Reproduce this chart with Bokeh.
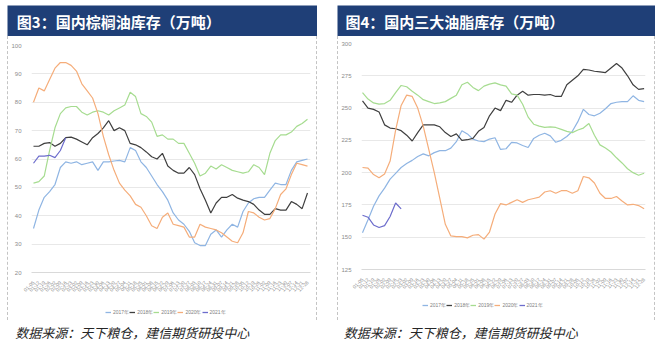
import numpy as np
from bokeh.plotting import figure
from bokeh.models import Range1d, FixedTicker, Legend, LegendItem, Label, Spacer
from bokeh.layouts import column, row
from bokeh.embed import file_html
from bokeh.resources import INLINE

# ---------------- data ----------------
weeks = ["01-05", "01-12", "01-19", "01-26", "02-02", "02-09", "02-16", "02-23",
         "03-02", "03-09", "03-16", "03-23", "03-30", "04-06", "04-13", "04-20",
         "04-27", "05-04", "05-11", "05-18", "05-25", "06-01", "06-08", "06-15",
         "06-22", "06-29", "07-06", "07-13", "07-20", "07-27", "08-03", "08-10",
         "08-17", "08-24", "08-31", "09-07", "09-14", "09-21", "09-28", "10-05",
         "10-12", "10-19", "10-26", "11-02", "11-09", "11-16", "11-23", "11-30",
         "12-07", "12-14", "12-21", "12-28"]
years = ["2017年", "2018年", "2019年", "2020年", "2021年"]

# 图3 国内棕榈油库存（万吨）
palm_2017 = [35.5, 42, 46.5, 48.5, 51, 57, 59, 58.5, 59, 58, 58.5, 59, 56, 59, 59, 59.3, 59.5, 59,
             64, 63, 59, 57, 54, 51, 48.5, 45.5, 41, 38.5, 37, 34.5, 30.5, 29.5, 29.5, 33.5, 35,
             32.5, 35, 37, 36, 41.5, 44.5, 46, 46.5, 46.5, 49, 51.5, 51, 51, 56, 59, 59.5, 60]
palm_2018 = [64.5, 64.5, 65.5, 65.8, 64.5, 65.5, 67.5, 67.7, 67, 66, 65, 67.5, 69, 71, 73.5, 70,
             71, 70, 65.5, 65, 64, 62.5, 60.8, 60, 62, 57.5, 56, 55, 55, 57, 54.5, 49.5, 45.5, 41,
             44.5, 46.5, 46.5, 47.5, 46.2, 45.5, 45, 44, 42, 40.5, 40.5, 42.5, 42, 42, 45, 44,
             42.5, 48]
palm_2019 = [51.5, 52, 54, 63, 71, 76, 78, 78.5, 78.5, 76.5, 75.5, 76.5, 77, 76.5, 75.5, 77, 78,
             79, 83.5, 82, 76, 75, 73, 68, 68.5, 67, 67, 65.5, 65.5, 62, 58.5, 54, 55, 57.5, 56.5,
             58, 57, 56, 55.5, 55, 55.5, 58, 57, 54.5, 62, 66.5, 68.5, 68.5, 69.5, 71.5, 72.5, 74]
palm_2020 = [80, 85, 84, 88, 92, 94, 94, 93, 91, 86.5, 84, 81.5, 76, 68, 61.5, 56, 51.5, 49, 47,
             44, 43, 40, 36.5, 35.5, 39.5, 41, 37, 36.5, 36, 32.5, 32.5, 37, 36, 35.5, 35, 34,
             32.5, 31, 30.5, 34, 41.5, 41, 39.5, 38.5, 39, 42.5, 47.5, 49.5, 54.5, 58.5, 58, 57.5]
palm_2021 = [58.5, 61, 61, 61.3, 60.5, 63, 67.5]
palm_yticks = [20, 30, 40, 50, 60, 70, 80, 90, 100]

# 图4 国内三大油脂库存（万吨）
oil_2017 = [153.5, 163.5, 174, 182, 188, 195, 199.5, 204, 207, 209.5, 212.5, 214.5, 213, 215.5,
            217, 217, 219, 224, 232.5, 230, 226, 224.5, 224, 226, 227, 218, 218.5, 223.5, 223,
            221, 219.5, 226.5, 229, 230.5, 228.5, 223.5, 225, 228, 232, 239.5, 249, 245, 244,
            246, 249.5, 253.5, 254.5, 255, 255, 259.5, 256, 255]
oil_2018 = [255.5, 250, 249, 247, 237, 234.5, 234, 232.5, 229, 224.5, 231, 237, 237, 237, 235.5,
            231, 228, 230, 225, 225.5, 226.5, 232, 235, 244, 250, 248, 256, 254.5, 260, 263, 260,
            260.5, 260.5, 260, 260.5, 259, 259, 268, 271.5, 275, 280, 279.5, 278.5, 278, 277.5,
            281, 284.5, 281, 275, 268, 264.5, 265]
oil_2019 = [262, 257, 254, 253, 253.5, 256, 262, 267.5, 266.5, 263, 260, 256.5, 255, 253.5, 254,
            255, 257.5, 260, 268, 270, 266, 263.5, 267, 268.5, 269.5, 268, 267, 261, 260, 253,
            243, 237.5, 236, 235, 235.5, 235, 233.5, 232, 231, 233, 234.5, 238, 229, 221.5, 219,
            216, 211.5, 207.5, 203, 200, 198, 199.5]
oil_2020 = [204, 203.5, 198.5, 196, 199, 209, 233, 252, 260, 259, 250, 236, 218, 200, 180, 160,
            151, 150.5, 150.5, 149.5, 151.5, 152, 148.5, 154, 168, 176, 175, 177, 179, 177, 179,
            180, 181, 185, 186, 184, 186, 186, 184, 186, 197, 196, 192, 184, 180, 180, 181.5, 178,
            175, 175.5, 174.5, 172]
oil_2021 = [167, 165.5, 159.5, 157.5, 159, 166, 176.5, 172]
oil_yticks = [125, 150, 175, 200, 225, 250, 275, 300]

colors = ["#8fb5e3", "#3f3f3f", "#a6dc90", "#f5ad7a", "#6d6dcc"]

TITLE_BLUE = "#1f3f77"
CJK = "Noto Sans CJK SC"


def blank(width, height, fill):
    f = figure(width=width, height=height, x_range=Range1d(0, 1), y_range=Range1d(0, 1),
               output_backend="svg", toolbar_location=None,
               min_border_left=0, min_border_right=0, min_border_top=0, min_border_bottom=0,
               x_axis_location=None, y_axis_location=None)
    f.grid.visible = False
    f.outline_line_color = None
    f.background_fill_color = fill
    f.border_fill_color = fill
    return f


def header(text, width, xpos):
    h = blank(width, 31, TITLE_BLUE)
    h.add_layout(Label(x=xpos, y=0.5, text=text,
                       text_color="white", text_font=CJK, text_font_style="bold",
                       text_font_size="15px", text_baseline="middle"))
    return h


def source(width, xpos):
    s = blank(width, 27, "white")
    s.add_layout(Label(x=xpos, y=0.55,
                       text="数据来源：天下粮仓，建信期货研投中心",
                       text_color="#262626", text_font=CJK, text_font_style="italic",
                       text_font_size="13px", text_baseline="middle"))
    return s


def chart(series, width, height, xr, yr, yticks, mbl, mbr, mbt, mbb):
    p = figure(width=width, height=height, x_range=Range1d(*xr), y_range=Range1d(*yr),
               output_backend="svg", toolbar_location=None,
               min_border_left=mbl, min_border_right=mbr, min_border_top=mbt,
               min_border_bottom=mbb)
    p.outline_line_color = None
    p.xgrid.visible = False
    p.ygrid.grid_line_color = "#e8e8e8"
    p.ygrid.ticker = FixedTicker(ticks=yticks)
    p.yaxis.ticker = FixedTicker(ticks=yticks)
    p.yaxis.axis_line_color = None
    p.yaxis.major_tick_line_color = None
    p.yaxis.minor_tick_line_color = None
    p.yaxis.major_label_text_font_size = "6px"
    p.yaxis.major_label_text_color = "#8c8c8c"
    p.yaxis.major_label_standoff = 4
    p.xaxis.ticker = FixedTicker(ticks=list(range(len(weeks))))
    p.xaxis.major_label_overrides = {i: w for i, w in enumerate(weeks)}
    p.xaxis.major_label_orientation = np.pi / 4
    p.xaxis.major_label_text_font_size = "5px"
    p.xaxis.major_label_text_color = "#8c8c8c"
    p.xaxis.major_tick_line_color = None
    p.xaxis.minor_tick_line_color = None
    p.xaxis.axis_line_color = "#d9d9d9"
    p.xaxis.major_label_standoff = 3
    for name, vals, c in series:
        p.line(list(range(len(vals))), vals, line_color=c, line_width=1.2)
    return p


def legend_fig(series, width, height, loc):
    f = blank(width, height, "white")
    items = []
    for name, vals, c in series:
        # legend key only: a single undefined point, nothing is drawn in the frame
        r = f.line([float("nan")], [float("nan")], line_color=c, line_width=1.3)
        items.append(LegendItem(label=name, renderers=[r], index=0))
    lg = Legend(items=items, orientation="horizontal", location=loc,
                label_text_font_size="5px", label_text_color="#7f7f7f",
                glyph_width=6, glyph_height=6, label_height=6, label_width=12,
                label_standoff=2, spacing=0, padding=0, margin=0,
                border_line_color=None, background_fill_alpha=0)
    f.add_layout(lg, "center")
    return f


def dashed_side():
    return Spacer(width=1, height=284,
                  styles={"border-left": "1px dashed #c4c4c4"})


palm_series = list(zip(years, [palm_2017, palm_2018, palm_2019, palm_2020, palm_2021], colors))
oil_series = list(zip(years, [oil_2017, oil_2018, oil_2019, oil_2020, oil_2021], colors))

left_chart = chart(palm_series, 308, 260, (-0.37, 51.56), (20, 100), palm_yticks,
                   19, 6, 9, 20)
right_chart = chart(oil_series, 316, 258, (-0.18, 51.25), (125, 300), oil_yticks,
                    19, 9, 7, 25)
left_leg = legend_fig(palm_series, 308, 24, (74, 5))
right_leg = legend_fig(oil_series, 316, 26, (61, 12))

left_panel = column(header("图3：国内棕榈油库存（万吨）", 310, 0.03),
                    row(dashed_side(), column(left_chart, left_leg), dashed_side()),
                    source(310, 0.025))
right_panel = column(header("图4：国内三大油脂库存（万吨）", 318, 0.025),
                     row(dashed_side(), column(right_chart, right_leg), dashed_side()),
                     source(318, 0.02))

page = column(Spacer(height=5),
              row(Spacer(width=7), left_panel, Spacer(width=20), right_panel))

open("out.html", "w").write(file_html(page, INLINE))
